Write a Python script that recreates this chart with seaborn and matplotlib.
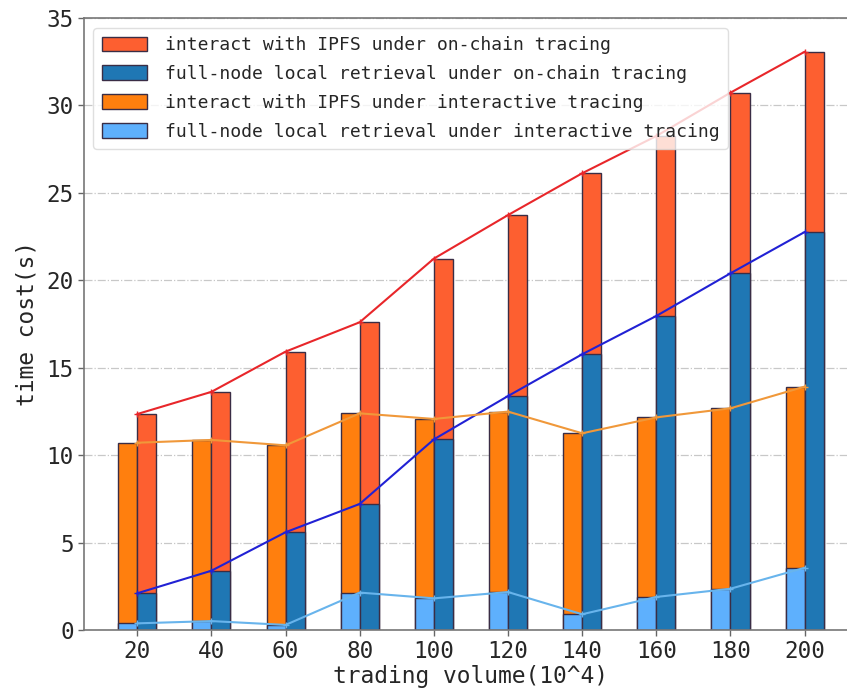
import numpy as np
import pandas as pd
import matplotlib
matplotlib.use("Agg")
import matplotlib.pyplot as plt
import matplotlib.patches as mpatches
import seaborn as sns

# ---- data ----
volumes = [20, 40, 60, 80, 100, 120, 140, 160, 180, 200]
inter_local = [0.38, 0.51, 0.29, 2.14, 1.81, 2.17, 0.90, 1.89, 2.36, 3.56]
inter_ipfs = [10.33, 10.36, 10.27, 10.25, 10.26, 10.32, 10.35, 10.27, 10.32, 10.36]
chain_local = [2.10, 3.39, 5.59, 7.21, 10.90, 13.38, 15.77, 17.96, 20.40, 22.76]
chain_ipfs = [10.25, 10.23, 10.33, 10.39, 10.34, 10.35, 10.35, 10.29, 10.33, 10.31]
methods = ["interactive", "on-chain"]
legend_labels = [
    "interact with IPFS under on-chain tracing",
    "full-node local retrieval under on-chain tracing",
    "interact with IPFS under interactive tracing",
    "full-node local retrieval under interactive tracing",
]

c_red = "#fd5f30"
c_dblue = "#1f77b4"
c_orange = "#ff7f0e"
c_lblue = "#5eb0fd"
edge = "#3a2d45"

inter_total = np.array(inter_local) + np.array(inter_ipfs)
chain_total = np.array(chain_local) + np.array(chain_ipfs)

df = pd.DataFrame({
    "volume": volumes * 2,
    "method": [methods[0]] * len(volumes) + [methods[1]] * len(volumes),
    "local": list(inter_local) + list(chain_local),
    "total": list(inter_total) + list(chain_total),
})

sns.set_style("white")
plt.rcParams["font.family"] = ["DejaVu Sans Mono", "DejaVu Sans"]

fig = plt.figure(figsize=(8.47, 6.93), dpi=100)
W, H = 847, 693
left, right, top, bottom = 83.5, 858.4, 18, 630
ax = fig.add_axes([left / W, 1 - bottom / H, (right - left) / W, (bottom - top) / H])

ax.yaxis.grid(True, linestyle="-.", color="#c8c8c8", linewidth=0.9)
ax.set_axisbelow(True)

sns.barplot(data=df, x="volume", y="total", hue="method", hue_order=methods,
            palette={methods[0]: c_orange, methods[1]: c_red}, width=0.514,
            dodge=True, edgecolor=edge, linewidth=1.0, saturation=1,
            legend=False, ax=ax, errorbar=None)
sns.barplot(data=df, x="volume", y="local", hue="method", hue_order=methods,
            palette={methods[0]: c_lblue, methods[1]: c_dblue}, width=0.514,
            dodge=True, edgecolor=edge, linewidth=1.0, saturation=1,
            legend=False, ax=ax, errorbar=None)

pos = np.arange(len(volumes))
ax.plot(pos, chain_total, color="#e8262a", lw=1.5, marker="+", ms=5, mew=1, zorder=5)
ax.plot(pos, chain_local, color="#2121d4", lw=1.5, marker="+", ms=5, mew=1, zorder=5)
ax.plot(pos, inter_total, color="#f0983a", lw=1.5, marker="+", ms=5, mew=1, zorder=5)
ax.plot(pos, inter_local, color="#68b4ec", lw=1.5, marker="+", ms=5, mew=1, zorder=5)

ax.set_xlim(-0.725, len(volumes) - 1 + 0.725)
ax.set_ylim(0, 35)
ax.set_yticks(np.arange(0, 36, 5))
ax.set_xticks(pos)
ax.set_xticklabels([str(v) for v in volumes])
ax.tick_params(axis="both", labelsize=16.3, length=4, width=1, color="#666666",
               direction="out", bottom=True, left=True, pad=3)
ax.set_xlabel("trading volume(10^4)", fontsize=16.5, labelpad=2)
ax.set_ylabel("time cost(s)", fontsize=16.5, labelpad=6)
for side in ["left", "bottom", "top"]:
    ax.spines[side].set_color("#777777")
    ax.spines[side].set_linewidth(1.2)
ax.spines["right"].set_visible(False)

handles = [
    mpatches.Patch(facecolor=c_red, edgecolor=edge, linewidth=1.0),
    mpatches.Patch(facecolor=c_dblue, edgecolor=edge, linewidth=1.0),
    mpatches.Patch(facecolor=c_orange, edgecolor=edge, linewidth=1.0),
    mpatches.Patch(facecolor=c_lblue, edgecolor=edge, linewidth=1.0),
]
leg = ax.legend(handles, legend_labels, loc="upper left", fontsize=13,
                handlelength=2.5, handleheight=0.85, handletextpad=1.0,
                labelspacing=0.6, borderpad=0.45, borderaxespad=0.55,
                frameon=True, fancybox=True, framealpha=0.8)
leg.get_frame().set_edgecolor("#d8d8d8")

fig.savefig("out.png", dpi=100)
